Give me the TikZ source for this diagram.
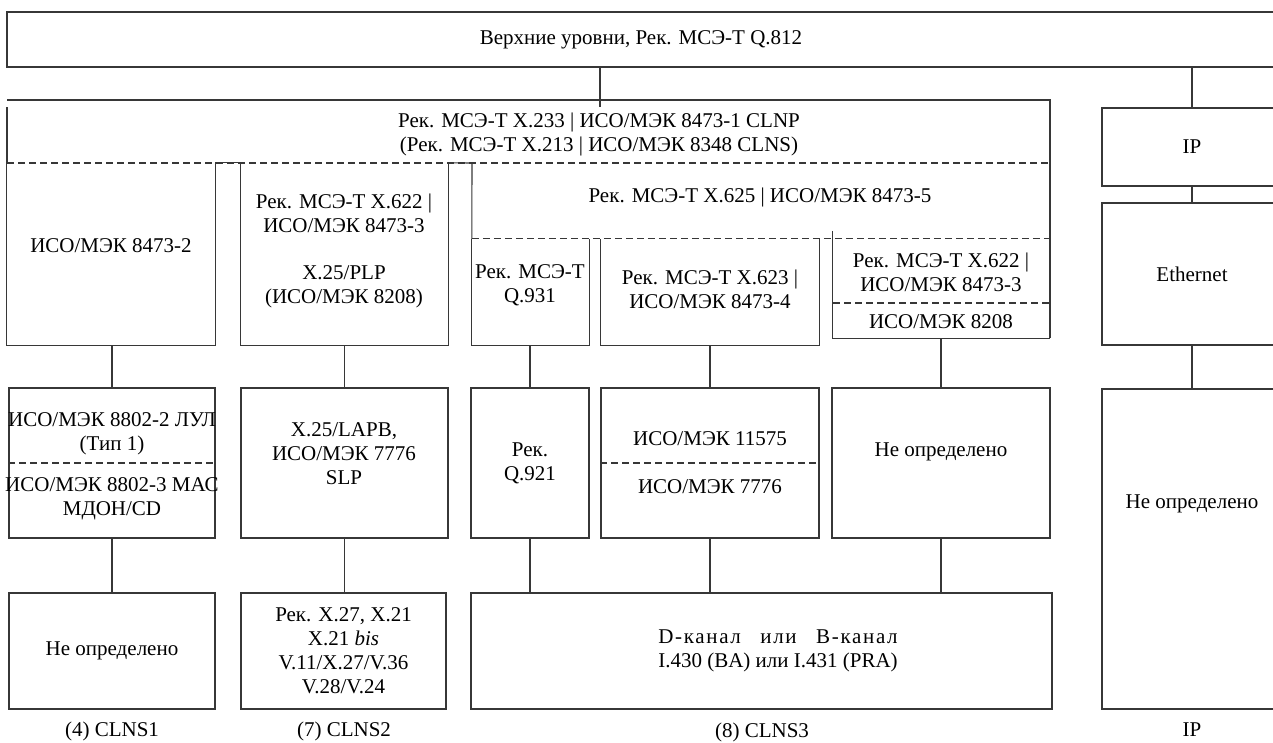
\documentclass[tikz,border=0pt]{standalone}
\usepackage{fontspec}
\setmainfont{Liberation Serif}
\usetikzlibrary{fit}
\definecolor{linec}{RGB}{55,55,55}
\newlength{\dchw}

\begin{document}
\begin{tikzpicture}[x=1pt,y=-1pt,font=\fontsize{21}{24}\selectfont,
  ln/.style={draw=linec,line width=1.1pt},
  dsh/.style={ln,dash pattern=on 7pt off 4pt},
  blk/.style={ln,inner sep=0pt,align=center},
  sz/.style 2 args={minimum width=#1,minimum height=#2},
  hole/.style={inner sep=0pt},
  txt/.style={inner sep=0pt,align=center}]
  \useasboundingbox (0,0) rectangle (1273,742);
  \clip (0,0) rectangle (1273,742);

  % upper layers
  \node[blk,sz={1268}{55}] (upper) at (641,39.5) {Верхние уровни, Рек. МСЭ-Т Q.812};
  \coordinate (clnpin) at (600,107);
  \draw[ln] (upper.south -| clnpin) -- (clnpin);

  % CLNP frame
  \draw[ln] (7,100) -- (1050,100) -- (1050,338);
  \draw[ln] (7,107) -- (7,163);
  \node[txt] (clnpt) at (599,134) {Рек. МСЭ-Т X.233 | ИСО/МЭК 8473-1 CLNP\\(Рек. МСЭ-Т X.213 | ИСО/МЭК 8348 CLNS)};
  \draw[dsh] (7,163) -- (1050,163);

  % subnetwork dependent parts, open at the top
  \node[hole,fit={(7,163) (215,345)}] (lan1) {};
  \node[hole,fit={(241,163) (448,345)}] (x622) {};
  \node[hole,fit={(472,239) (589,345)}] (q931) {};
  \node[hole,fit={(601,239) (819,345)}] (x623) {};
  \node[hole,fit={(833,239) (1050,338)}] (x622r) {};
  \foreach \n in {lan1,x622,q931,x623}
    \draw[ln] (\n.north west) |- (\n.south east) -- (\n.north east);
  \draw[ln] ([yshift=8pt]x622r.north west) |- (x622r.south east);
  \draw[ln] (lan1.north east) -- (x622.north west);
  \draw[ln] (x622.north east) -- (472,163) -- (q931.north west);
  \draw[dsh] (q931.north west) -- (x622r.north east);
  \draw[dsh] (833,303) -- (1050,303);

  \node[txt] (lan1t) at (111,246) {ИСО/МЭК 8473-2};
  \node[txt] (x622t) at (344,251) {Рек. МСЭ-Т X.622 |\\ИСО/МЭК 8473-3\\[23pt]X.25/PLP\\(ИСО/МЭК 8208)};
  \node[txt] (x625t) at (760,197) {Рек. МСЭ-Т X.625 | ИСО/МЭК 8473-5};
  \node[txt] (q931t) at (530,285) {Рек. МСЭ-Т\\Q.931};
  \node[txt] (x623t) at (710,289) {Рек. МСЭ-Т X.623 |\\ИСО/МЭК 8473-4};
  \node[txt] (x622rt) at (941,272) {Рек. МСЭ-Т X.622 |\\ИСО/МЭК 8473-3};
  \node[txt] (x622rb) at (941,322) {ИСО/МЭК 8208};

  % IP stack
  \node[blk,sz={180}{78}] (ip) at (1192,147) {IP};
  \node[blk,sz={180}{142}] (eth) at (1192,274) {Ethernet};
  \node[blk,fit={(1102,389) (1282,709)}] (ipphy) {};
  \node[txt] (ipphyt) at (1192,504) {Не определено};
  \draw[ln] (upper.south -| ip.north) -- (ip.north);
  \draw[ln] (ip) -- (eth);
  \draw[ln] (eth) -- (ipphy);

  % data link row
  \node[blk,fit={(9,388) (215,538)}] (lan2) {};
  \node[txt] (lan2t) at (112,466) {ИСО/МЭК 8802-2 ЛУЛ\\(Тип 1)\\[17pt]ИСО/МЭК 8802-3 МАС\\МДОН/CD};
  \draw[dsh] (lan2.west) -- (lan2.east);
  \node[blk,fit={(241,388) (448,538)}] (x622b) {};
  \node[txt] (x622bt) at (344,454) {X.25/LAPB,\\ИСО/МЭК 7776\\SLP};
  \node[blk,sz={118}{150}] (q921) at (530,463) {Рек.\\Q.921};
  \node[blk,sz={218}{150}] (x623b) at (710,463) {ИСО/МЭК 11575\\[24pt]ИСО/МЭК 7776};
  \draw[dsh] (x623b.west) -- (x623b.east);
  \node[blk,fit={(832,388) (1050,538)}] (undef2) {};
  \node[txt] (undef2t) at (941,452) {Не определено};

  % physical row
  \node[blk,sz={206}{116}] (undef1) at (112,651) {Не определено};
  \node[blk,sz={205}{116}] (phys2) at (343.5,651) {Рек. X.27, X.21\\X.21 \textit{bis}\\V.11/X.27/V.36\\V.28/V.24};
  \node[blk,fit={(471,593) (1052,709)}] (dch) {};
  \node[txt] (dcht) at (778,651) {\settowidth{\dchw}{I.430 (BA) или I.431 (PRA)}\makebox[\dchw][s]{\addfontfeature{LetterSpace=8}D-канал или B-канал}\\I.430 (BA) или I.431 (PRA)};

  % connectors
  \draw[ln] (lan1.south -| lan2.north) -- (lan2.north);
  \draw[ln] (lan2) -- (undef1);
  \draw[ln] (x622.south -| x622b.north) -- (x622b.north);
  \draw[ln] (x622b.south) -- (x622b.south |- phys2.north);
  \draw[ln] (q931.south -| q921.north) -- (q921.north);
  \draw[ln] (x623.south) -- (x623b.north);
  \draw[ln] (x622r.south -| undef2.north) -- (undef2.north);
  \foreach \n in {q921,x623b,undef2}
    \draw[ln] (\n.south) -- (\n.south |- dch.north);

  % stack names
  \node[txt] (cl1) at (112,731) {(4) CLNS1};
  \node[txt] (cl2) at (344,731) {(7) CLNS2};
  \node[txt] (cl3) at (762,732) {(8) CLNS3};
  \node[txt] (cl4) at (1192,730) {IP};
\end{tikzpicture}
\end{document}
